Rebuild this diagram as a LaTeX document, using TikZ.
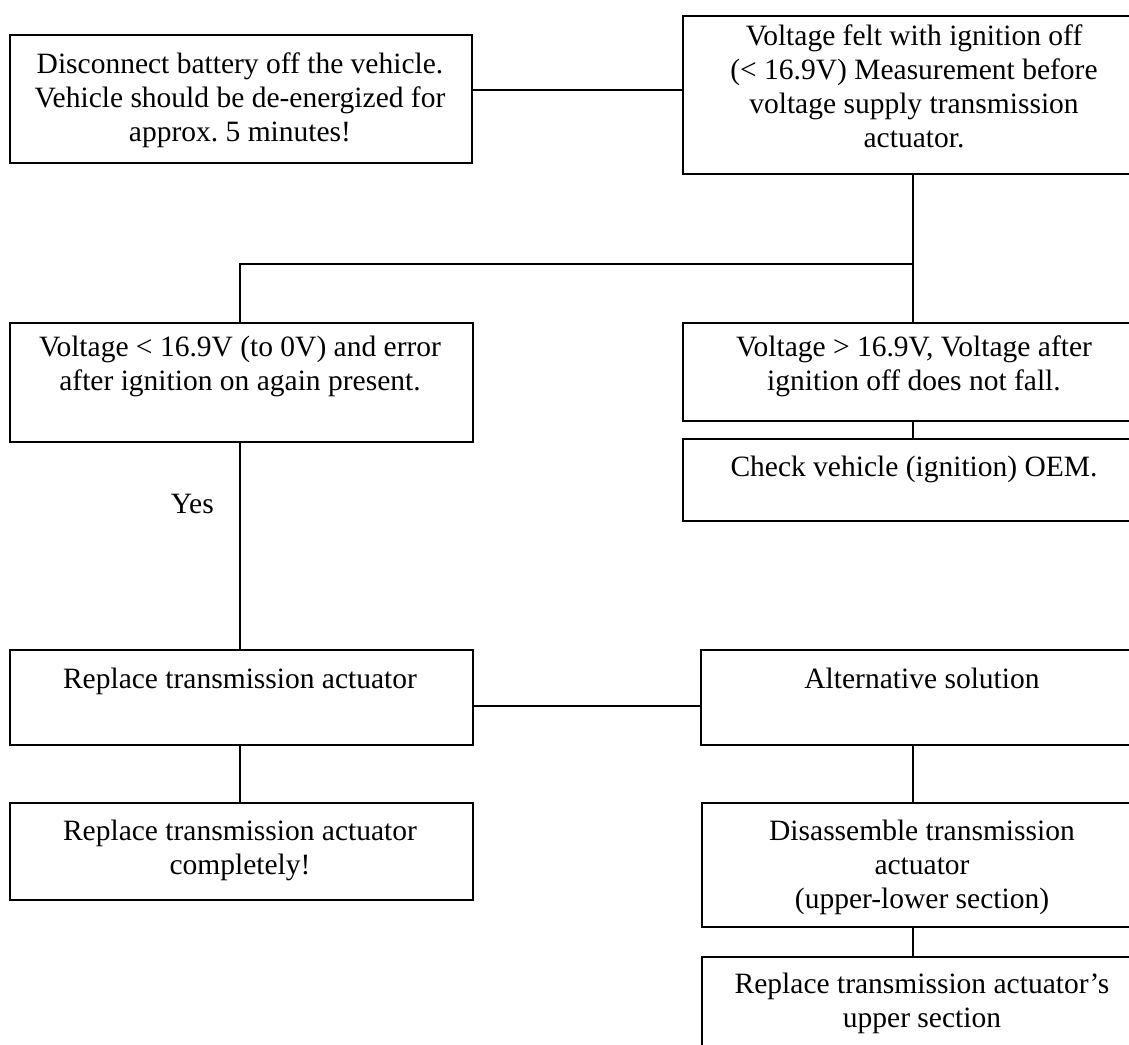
\documentclass[tikz,border=0pt]{standalone}
\usepackage{fontspec}
\setmainfont{Liberation Serif}
\frenchspacing
\begin{document}
\begin{tikzpicture}[x=1pt,y=-1pt,
  box/.style={draw=black, line width=1.6pt, rectangle, inner sep=0pt, anchor=north west},
  txt/.style={anchor=north, inner sep=0pt, align=center, font=\fontsize{29.5}{34}\selectfont},
  link/.style={draw=black, line width=1.5pt}]
\useasboundingbox (0,0) rectangle (1129,1044);
% boxes
\node[box, minimum width=462pt, minimum height=128pt] (b1) at (9,34) {};
\node[box, minimum width=464pt, minimum height=158pt] (b2) at (682,15) {};
\node[box, minimum width=463pt, minimum height=119pt] (b3) at (9,322) {};
\node[box, minimum width=464pt, minimum height=98pt] (b4) at (682,322) {};
\node[box, minimum width=464pt, minimum height=82pt] (b5) at (682,438) {};
\node[box, minimum width=463pt, minimum height=95pt] (b6) at (9,649) {};
\node[box, minimum width=444pt, minimum height=95pt] (b7) at (700,649) {};
\node[box, minimum width=463pt, minimum height=97pt] (b8) at (9,802) {};
\node[box, minimum width=443pt, minimum height=124pt] (b9) at (701,802) {};
\node[box, minimum width=443pt, minimum height=100pt] (b10) at (701,956) {};
% texts
\node[txt] (t1) at (240,53) {Disconnect battery off the vehicle.\\Vehicle should be de-energized for\\approx. 5 minutes!};
\node[txt] (t2) at (914,25) {Voltage felt with ignition off\\(< 16.9V) Measurement before\\voltage supply transmission\\actuator.};
\node[txt] (t3) at (240,336) {Voltage < 16.9V (to 0V) and error\\after ignition on again present.};
\node[txt] (t4) at (914,336) {Voltage > 16.9V, Voltage after\\ignition off does not fall.};
\node[txt] (t5) at (914,456) {Check vehicle (ignition) OEM.};
\node[txt] (t6) at (240,668) {Replace transmission actuator};
\node[txt] (t7) at (922,668) {Alternative solution};
\node[txt] (t8) at (240,820) {Replace transmission actuator\\completely!};
\node[txt] (t9) at (922,820) {Disassemble transmission\\actuator\\(upper-lower section)};
\node[txt] (t10) at (922,973) {Replace transmission actuator’s\\upper section};
\node[txt, anchor=north east] (yes) at (214,494) {Yes};
% junction coordinates
\coordinate (j1) at (0,90);
\coordinate (jr) at (913,264);
\coordinate (jl) at (240,264);
\coordinate (j6) at (0,706);
% connectors
\draw[link] (b1.east |- j1) -- (b2.west |- j1);
\draw[link] (b2.south -| jr) -- (jr) -- (b4.north -| jr);
\draw[link] (jr) -- (jl) -- (b3.north -| jl);
\draw[link] (b4.south -| jr) -- (b5.north -| jr);
\draw[link] (b3.south -| jl) -- (b6.north -| jl);
\draw[link] (b6.east |- j6) -- (b7.west |- j6);
\draw[link] (b6.south -| jl) -- (b8.north -| jl);
\draw[link] (b7.south -| jr) -- (b9.north -| jr);
\draw[link] (b9.south -| jr) -- (b10.north -| jr);
\end{tikzpicture}
\end{document}
